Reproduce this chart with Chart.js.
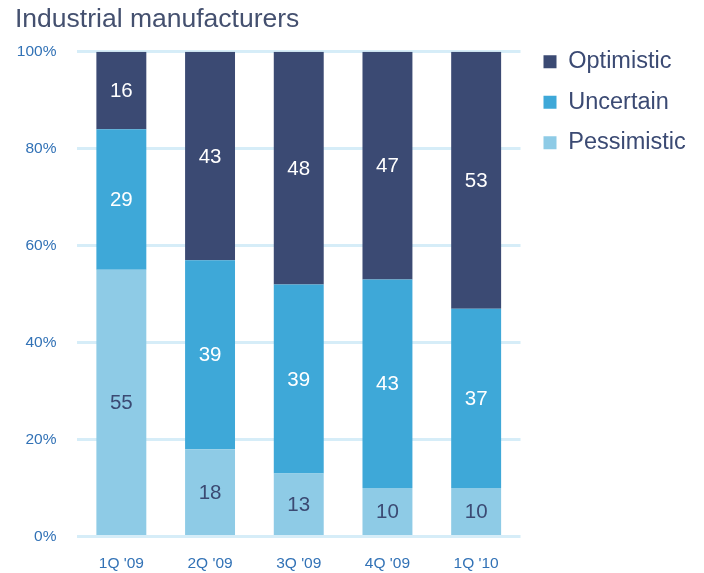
<!DOCTYPE html>
<html>
<head>
<meta charset="utf-8">
<script src="https://cdn.jsdelivr.net/npm/chart.js@4"></script>
<style>
  html, body { margin: 0; padding: 0; background: #fff; }
  #wrap { width: 704px; height: 573px; position: relative; }
</style>
</head>
<body>
<div id="wrap"><canvas id="chart" width="704" height="573"></canvas></div>
<script>
const quarters = ["1Q '09", "2Q '09", "3Q '09", "4Q '09", "1Q '10"];
const pessimistic = [55, 18, 13, 10, 10];
const uncertain = [29, 39, 39, 43, 37];
const optimistic = [16, 43, 48, 47, 53];
const yTicks = [0, 20, 40, 60, 80, 100];

const navy = "#3b4a73";
const tickBlue = "#3272b6";
const fontFamily = "'Liberation Sans', Arial, sans-serif";

// writes the value in the middle of each segment
const segmentLabels = {
  id: "segmentLabels",
  afterLayout(chart) {
    // nudge the legend a little to the right of the plot
    chart.legend.left += 6;
    chart.legend.right += 6;
  },
  afterDatasetsDraw(chart) {
    const ctx = chart.ctx;
    ctx.save();
    ctx.font = "20.5px " + fontFamily;
    ctx.textAlign = "center";
    ctx.textBaseline = "middle";
    chart.data.datasets.forEach((ds, i) => {
      const meta = chart.getDatasetMeta(i);
      meta.data.forEach((bar, j) => {
        ctx.fillStyle = ds.labelColor;
        ctx.fillText(String(ds.data[j]), bar.x, (bar.y + bar.base) / 2 + 1);
      });
    });
    ctx.restore();
  },
};

new Chart(document.getElementById("chart").getContext("2d"), {
  type: "bar",
  data: {
    labels: quarters,
    datasets: [
      { label: "Pessimistic", data: pessimistic, backgroundColor: "#8ecbe6", labelColor: navy },
      { label: "Uncertain", data: uncertain, backgroundColor: "#3ea8d8", labelColor: "#ffffff" },
      { label: "Optimistic", data: optimistic, backgroundColor: "#3b4a73", labelColor: "#ffffff" },
    ],
  },
  options: {
    responsive: false,
    animation: false,
    layout: { padding: { left: 15, right: 15, top: 0, bottom: -18 } },
    datasets: { bar: { categoryPercentage: 1, barPercentage: 0.563 } },
    plugins: {
      title: {
        display: true,
        text: "Industrial manufacturers",
        align: "start",
        color: "#44506f",
        font: { family: fontFamily, size: 26.5, weight: "normal" },
        padding: { top: 4, bottom: 16 },
      },
      legend: {
        position: "right",
        align: "start",
        reverse: true,
        title: { display: true, text: " ", font: { size: 12 }, padding: { top: 0, bottom: 18.6 } },
        labels: {
          color: navy,
          boxWidth: 13,
          boxHeight: 13,
          padding: 17,
          font: { family: fontFamily, size: 23.5 },
        },
      },
      tooltip: { enabled: false },
    },
    scales: {
      x: {
        stacked: true,
        grid: { display: false, drawTicks: false },
        border: { display: false },
        ticks: {
          color: tickBlue,
          padding: 18,
          font: { family: fontFamily, size: 15.5 },
        },
      },
      y: {
        stacked: true,
        min: 0,
        max: 100,
        afterBuildTicks(axis) {
          axis.ticks = yTicks.map((v) => ({ value: v }));
        },
        afterFit(axis) {
          axis.width = 62;
        },
        grid: { color: "#d6edf8", lineWidth: 3, drawTicks: false },
        border: { display: false },
        ticks: {
          color: tickBlue,
          padding: 20.5,
          font: { family: fontFamily, size: 15.5 },
          callback: (v) => v + "%",
        },
      },
    },
  },
  plugins: [segmentLabels],
});
</script>
</body>
</html>
